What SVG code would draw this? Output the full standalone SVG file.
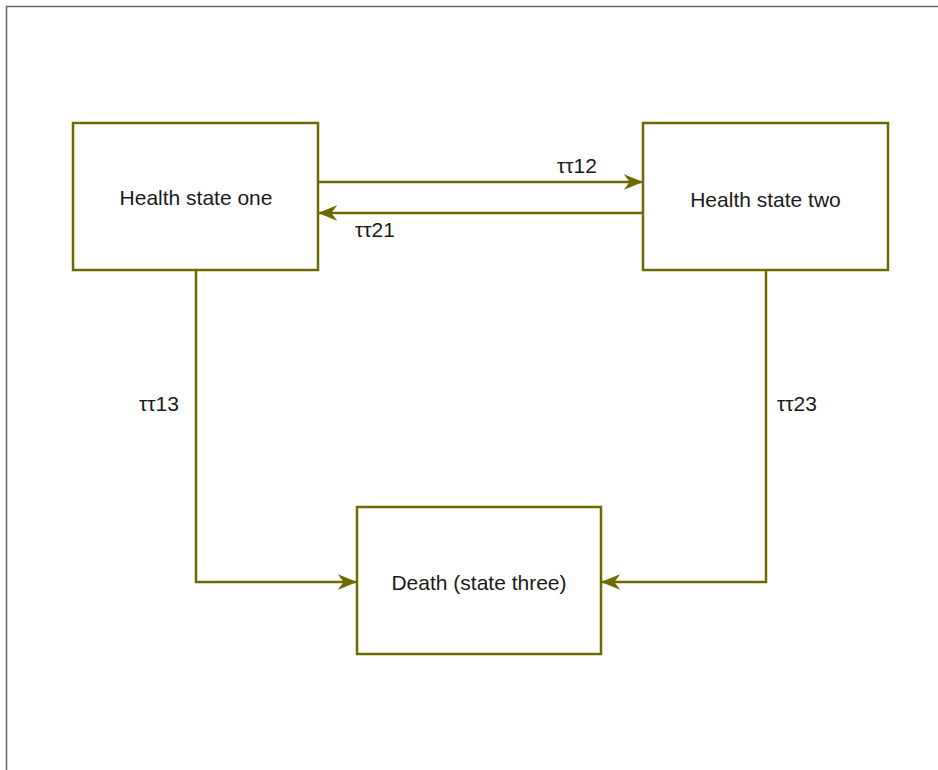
<svg xmlns="http://www.w3.org/2000/svg" width="938" height="770" viewBox="0 0 938 770">
<style>
.node{fill:#fff;stroke:#6b6b00;stroke-width:2.5}
.lbl{font-family:"Liberation Sans",Arial,sans-serif;font-size:21px;fill:#1a1a1a}
.edge{fill:none;stroke:#6b6b00;stroke-width:2.5}
</style>
<defs>
<marker id="ah" viewBox="0 0 20 20" refX="19" refY="10" markerWidth="19" markerHeight="17" markerUnits="userSpaceOnUse" orient="auto" preserveAspectRatio="none">
<path d="M0,1 L20,10 L0,19 L6,10 Z" fill="#6b6b00"/>
</marker>
</defs>
<rect x="6.5" y="6.5" width="940" height="770" fill="#fff" stroke="#666" stroke-width="1.5"/>
<g id="connectors">
<path class="edge" d="M318,182 L642,182" marker-end="url(#ah)"/>
<path class="edge" d="M643,213 L319,213" marker-end="url(#ah)"/>
<path class="edge" d="M196,270 L196,582 L356,582" marker-end="url(#ah)"/>
<path class="edge" d="M766,270 L766,582 L602,582" marker-end="url(#ah)"/>
<text class="lbl" x="557" y="173">ττ12</text>
<text class="lbl" x="355" y="237">ττ21</text>
<text class="lbl" x="139" y="411">ττ13</text>
<text class="lbl" x="777" y="411">ττ23</text>
</g>
<g id="state1">
<rect class="node" x="73" y="123" width="245" height="147"/>
<text class="lbl" x="196" y="205" text-anchor="middle">Health state one</text>
</g>
<g id="state2">
<rect class="node" x="643" y="123" width="245" height="147"/>
<text class="lbl" x="765.5" y="207" text-anchor="middle">Health state two</text>
</g>
<g id="state3">
<rect class="node" x="357" y="507" width="244" height="147"/>
<text class="lbl" x="479" y="590" text-anchor="middle">Death (state three)</text>
</g>
</svg>
